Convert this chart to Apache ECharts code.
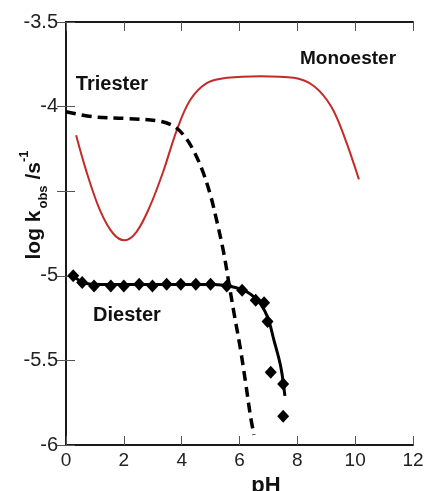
<!DOCTYPE html>
<html>
<head>
<meta charset="utf-8">
<script src="https://cdn.jsdelivr.net/npm/echarts@6/dist/echarts.min.js"></script>
<style>
  html, body { margin: 0; padding: 0; background: #fff; }
  #main { width: 427px; height: 491px; }
</style>
</head>
<body>
<div id="main"></div>
<script>
// monoester (red curve)
const monoPH = [0.35, 0.70, 1.17, 1.63, 2.03, 2.44, 2.9, 3.37, 3.83, 4.3, 4.88, 5.57, 6.73, 7.89, 8.58, 9.17, 9.63, 10.13]
const monoLogK = [-4.17, -4.38, -4.61, -4.75, -4.79, -4.74, -4.59, -4.38, -4.14, -3.96, -3.86, -3.83, -3.82, -3.83, -3.88, -4.0, -4.18, -4.43]

// triester (dashed)
const triPH = [0, 0.93, 2.09, 3.25, 3.77, 4.12, 4.41, 4.7, 4.99, 5.22, 5.45, 5.63, 5.8, 6.03, 6.21, 6.38, 6.5]
const triLogK = [-4.03, -4.06, -4.07, -4.086, -4.12, -4.18, -4.26, -4.37, -4.52, -4.68, -4.86, -5.04, -5.21, -5.43, -5.63, -5.83, -5.94]

// diester fit (solid)
const diFitPH = [0.25, 0.6, 1.0, 2, 3, 4, 5, 5.45, 6.15, 6.62, 6.96, 7.19, 7.43, 7.57]
const diFitLogK = [-5.0, -5.04, -5.05, -5.052, -5.052, -5.052, -5.052, -5.056, -5.086, -5.145, -5.24, -5.38, -5.54, -5.71]

// diester measured points
const diPH = [0.25, 0.56, 0.97, 1.55, 2.0, 2.53, 2.99, 3.48, 3.97, 4.49, 5.0, 5.56, 6.09, 6.56, 6.85, 6.97, 7.08, 7.51, 7.51]
const diLogK = [-5.0, -5.04, -5.06, -5.06, -5.06, -5.05, -5.06, -5.05, -5.05, -5.05, -5.05, -5.06, -5.085, -5.145, -5.16, -5.27, -5.57, -5.64, -5.83]

// tick labels (-4.5 has no label in the original)
const yTickLabels = { '-3.5': '-3.5', '-4': '-4', '-4.5': '', '-5': '-5', '-5.5': '-5.5', '-6': '-6' }

function pairs(xs, ys) {
  return xs.map((x, i) => [x, ys[i]])
}

const chart = echarts.init(document.getElementById('main'))

const font = '"Liberation Sans", Arial, Helvetica, sans-serif'
const axisLine = { show: true, lineStyle: { color: '#1a1a1a', width: 2 } }
const axisTick = { show: true, inside: true, length: 9, lineStyle: { color: '#555', width: 1 } }

var option = {
  animation: false,
  grid: { left: 66, right: 14, top: 22, bottom: 46 },
  xAxis: [{
    type: 'value', min: 0, max: 12, interval: 2,
    axisLine: axisLine, axisTick: axisTick, splitLine: { show: false },
    axisLabel: { color: '#222', fontSize: 19, fontFamily: font, margin: 6 }
  }, {
    type: 'value', position: 'top', min: 0, max: 12, interval: 2,
    axisLine: axisLine, axisTick: axisTick, splitLine: { show: false },
    axisLabel: { show: false }
  }],
  yAxis: [{
    type: 'value', min: -6, max: -3.5, interval: 0.5,
    axisLine: axisLine, axisTick: axisTick, splitLine: { show: false },
    axisLabel: {
      color: '#222', fontSize: 20, fontFamily: font, margin: 8,
      formatter: v => yTickLabels[String(v)] ?? String(v)
    }
  }, {
    type: 'value', position: 'right', min: -6, max: -3.5, interval: 0.5,
    axisLine: axisLine, axisTick: axisTick, splitLine: { show: false },
    axisLabel: { show: false }
  }],
  graphic: [
    {
      type: 'text', x: 28, y: 205, rotation: Math.PI / 2,
      style: {
        text: '{m|log k}{s|obs}{m| /s}{p|-1}',
        align: 'center', verticalAlign: 'middle',
        rich: {
          m: { fontSize: 21, fontWeight: 'bold', fontFamily: font, fill: '#111', lineHeight: 21, padding: [6, 0, 0, 0], verticalAlign: 'top' },
          s: { fontSize: 13, fontWeight: 'bold', fontFamily: font, fill: '#111', lineHeight: 13, padding: [19, 0, 0, 2], verticalAlign: 'top' },
          p: { fontSize: 13, fontWeight: 'bold', fontFamily: font, fill: '#111', lineHeight: 13, padding: [0, 0, 0, 0], verticalAlign: 'top' }
        }
      }
    },
    { type: 'text', x: 266, y: 486, style: { text: 'pH', fontSize: 22, fontWeight: 'bold', fontFamily: font, fill: '#111', align: 'center', verticalAlign: 'middle' } },
    { type: 'text', x: 348, y: 59, style: { text: 'Monoester', fontSize: 19, fontWeight: 'bold', fontFamily: font, fill: '#111', align: 'center', verticalAlign: 'middle' } },
    { type: 'text', x: 112, y: 84, style: { text: 'Triester', fontSize: 20, fontWeight: 'bold', fontFamily: font, fill: '#111', align: 'center', verticalAlign: 'middle' } },
    { type: 'text', x: 127, y: 315, style: { text: 'Diester', fontSize: 20, fontWeight: 'bold', fontFamily: font, fill: '#111', align: 'center', verticalAlign: 'middle' } }
  ],
  series: [{
      name: 'Monoester',
      type: 'line',
      data: pairs(monoPH, monoLogK),
      smooth: 0.35,
      showSymbol: false,
      lineStyle: { color: '#c42a2a', width: 2 }
    },
    {
      name: 'Triester',
      type: 'line',
      data: pairs(triPH, triLogK),
      smooth: 0.35,
      showSymbol: false,
      lineStyle: { color: '#000', width: 3.5, type: [10, 6] }
    },
    {
      name: 'Diester fit',
      type: 'line',
      data: pairs(diFitPH, diFitLogK),
      smooth: 0.35,
      showSymbol: false,
      lineStyle: { color: '#000', width: 3 }
    },
    {
      name: 'Diester',
      type: 'scatter',
      data: pairs(diPH, diLogK),
      symbol: 'diamond',
      symbolSize: [12, 13],
      itemStyle: { color: '#000', opacity: 1 }
    }
  ]
};
chart.setOption(option)
</script>
</body>
</html>
